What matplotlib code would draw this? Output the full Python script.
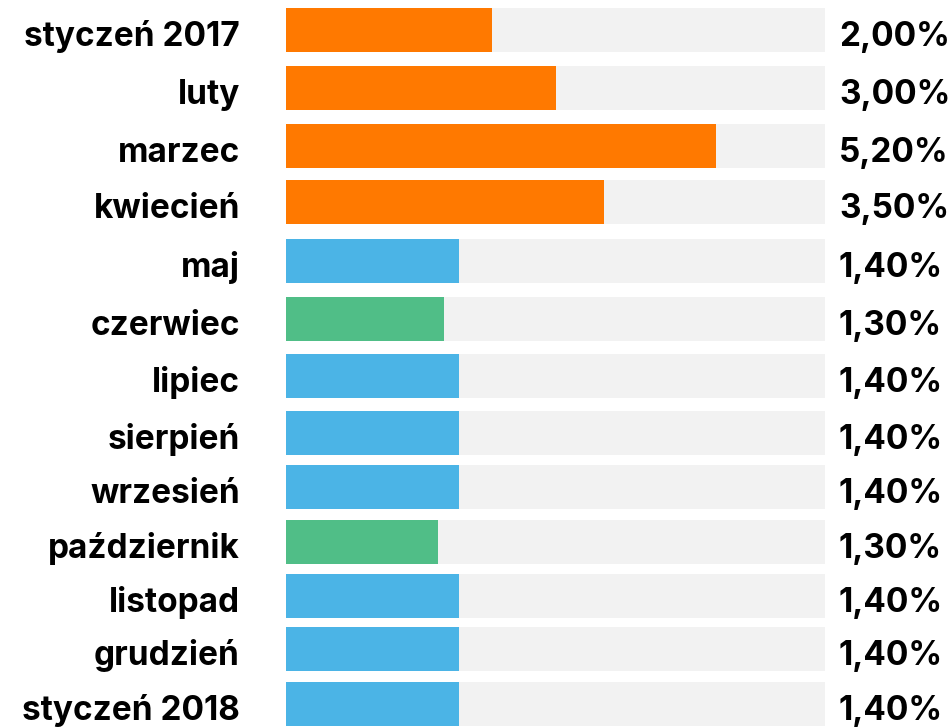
import matplotlib
matplotlib.use("Agg")
import matplotlib.pyplot as plt

# months, the printed value and the bar length (share of the grey track, %)
months = ["styczeń 2017", "luty", "marzec", "kwiecień", "maj", "czerwiec", "lipiec",
          "sierpień", "wrzesień", "październik", "listopad", "grudzień", "styczeń 2018"]
labels = ["2,00%", "3,00%", "5,20%", "3,50%", "1,40%", "1,30%", "1,40%",
          "1,40%", "1,40%", "1,30%", "1,40%", "1,40%", "1,40%"]
bar_len = [38.2, 50.1, 79.8, 59.0, 32.1, 29.3, 32.1, 32.1, 32.1, 28.2, 32.1, 32.1, 32.1]
groups = ["o", "o", "o", "o", "b", "g", "b", "b", "b", "g", "b", "b", "b"]

colors = {"o": "#FF7900", "b": "#4BB4E6", "g": "#50BE87"}

plt.rcParams['font.family'] = ['Inter', 'DejaVu Sans']

W, H = 953, 728
fig = plt.figure(figsize=(W / 100, H / 100), dpi=100)
x0, x1 = 286, 825
# axes in pixel units on y (top = 0)
ax = fig.add_axes([x0 / W, 0, (x1 - x0) / W, 1])
ax.set_xlim(0, 100)
ax.set_ylim(H, 0)
ax.axis("off")

# row layout (top edge of each bar, in pixels)
row_top = [8, 66, 124, 180, 239, 297, 354, 411, 465, 520, 574, 627, 682]
bh = 44
ys = [t + bh / 2 for t in row_top]

ax.barh(ys, [100] * len(ys), height=bh, color="#F2F2F2", zorder=1)
ax.barh(ys, bar_len, height=bh, color=[colors[g] for g in groups], zorder=2)

px = 100 / (x1 - x0)
for y, m, lab in zip(ys, months, labels):
    ax.text(-(x0 - 240) * px, y + 16, m, ha="right", va="baseline", fontsize=24,
            fontweight="bold", color="#000000", clip_on=False)
    ax.text((839 - x0) * px, y + 16, lab, ha="left", va="baseline", fontsize=24,
            fontweight="bold", color="#000000", clip_on=False)

fig.savefig("out.png", dpi=100)
